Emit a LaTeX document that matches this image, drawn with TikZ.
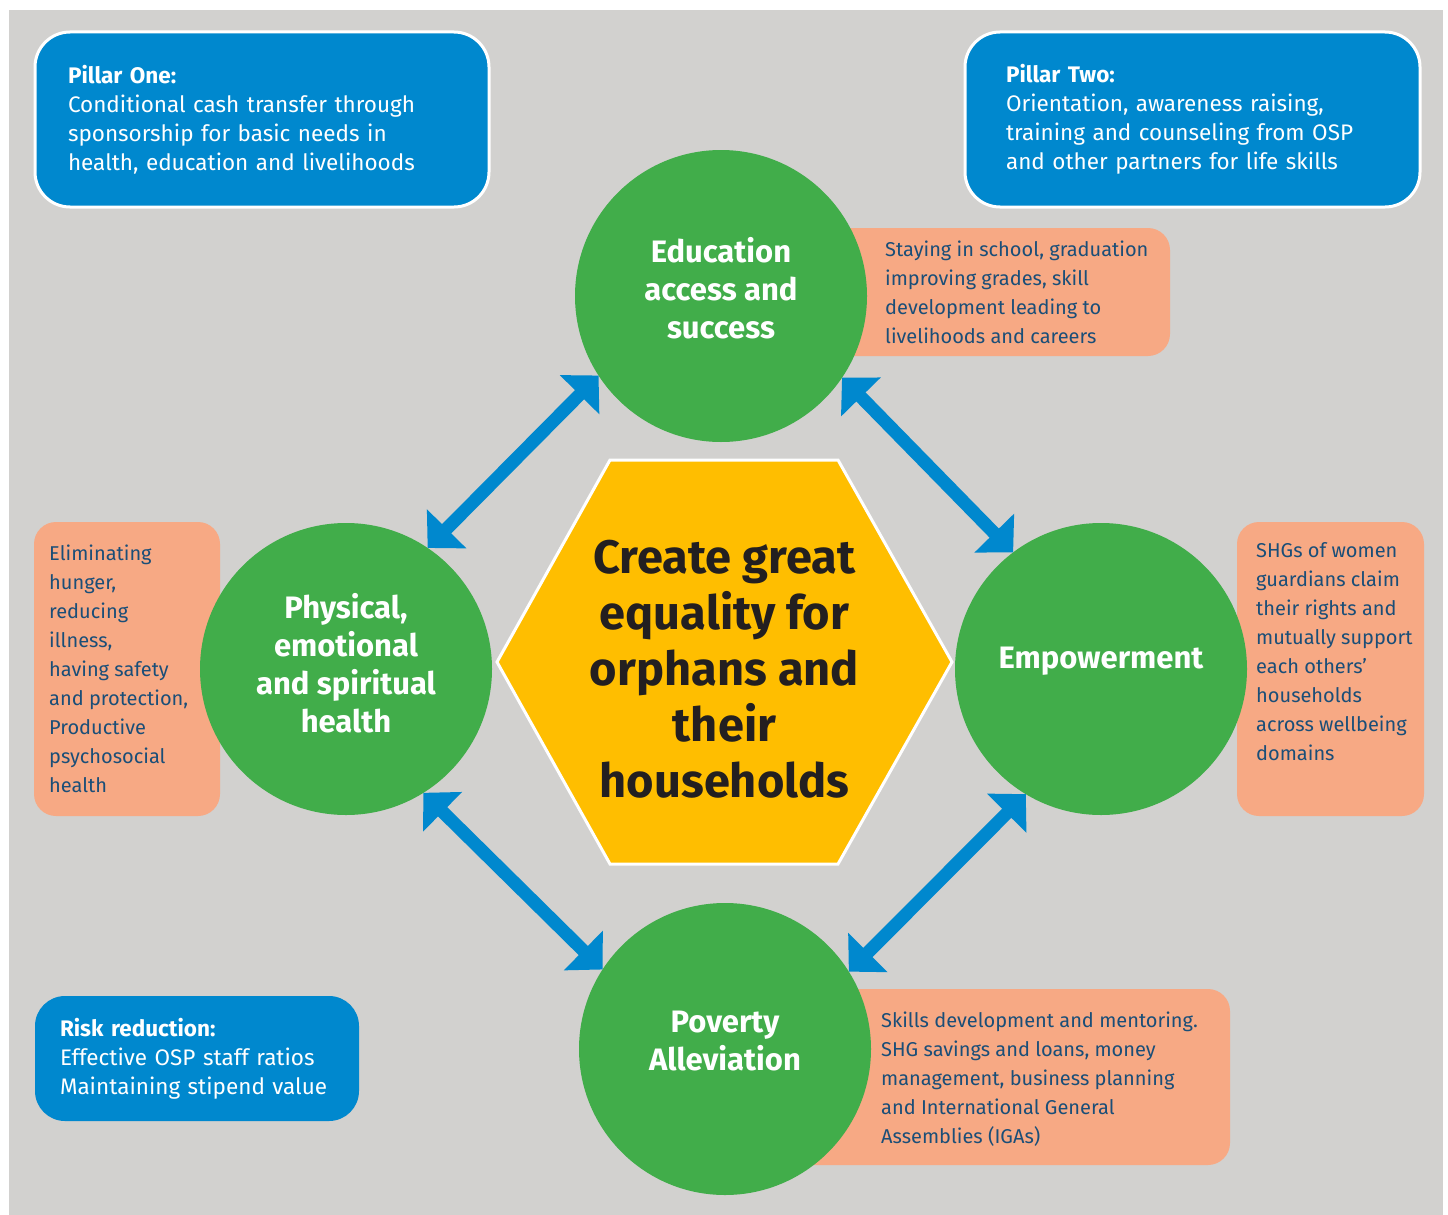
\documentclass[tikz,border=0pt]{standalone}
\usepackage{fontspec}
\setmainfont{Fira Sans}
\usetikzlibrary{arrows.meta}

\definecolor{bggray}{HTML}{D2D1CF}
\definecolor{pillarblue}{HTML}{0088CE}
\definecolor{circgreen}{HTML}{41AD4A}
\definecolor{notepeach}{HTML}{F7A984}
\definecolor{noteink}{HTML}{1A4E78}
\definecolor{hexyellow}{HTML}{FFBE00}
\definecolor{hexink}{HTML}{231F20}

\tikzset{
  pillar/.style={fill=pillarblue, draw=white, line width=3pt, rounded corners=35pt,
    text=white, align=left, inner ysep=0pt, font=\fontsize{22.5}{29}\selectfont},
  hub/.style={circle, fill=circgreen, minimum size=292pt, inner sep=0pt, outer sep=0pt},
  hubtext/.style={text=white, align=center, font=\bfseries\fontsize{31}{38}\selectfont},
  notebox/.style={fill=notepeach, rounded corners=22pt},
  notetext/.style={text=noteink, align=left, inner sep=0pt, font=\fontsize{20}{29}\selectfont},
  link/.style={draw=pillarblue, line width=13pt,
    {Triangle[length=27pt,width=54pt]}-{Triangle[length=27pt,width=54pt]}},
}

\begin{document}
\begin{tikzpicture}[x=1pt,y=-1pt]
	\useasboundingbox (0,0) rectangle (1448,1215);
	\fill[white] (0,0) rectangle (1448,1215);
	\fill[bggray] (9,10) rectangle (1443,1215);

	% pillars and risk box
	\node[pillar, text width=388pt, inner xsep=33pt, minimum height=175pt] (pillarOne) at (262,119.5)
		{\textbf{Pillar One:}\\Conditional cash transfer through\\sponsorship for basic needs in\\health, education and livelihoods};
	\node[pillar, text width=373pt, inner xsep=41pt, minimum height=175pt] (pillarTwo) at (1192.5,119.5)
		{\textbf{Pillar Two:}\\Orientation, awareness raising,\\training and counseling from OSP\\and other partners for life skills};
	\node[pillar, draw=none, rounded corners=30pt, text width=274pt, inner xsep=25pt, minimum height=125pt] (risk) at (197,1058.5)
		{\textbf{Risk reduction:}\\Effective OSP staff ratios\\Maintaining stipend value};

	% outcome notes, partly tucked behind the circles
	\fill[notebox] (790,228) rectangle (1170,356);
	\fill[notebox] (34,522) rectangle (220,816);
	\fill[notebox] (1237,522) rectangle (1424,816);
	\fill[notebox] (760,989) rectangle (1230,1165);
	\node[notetext, anchor=west] (eduNote) at (885,292)
		{Staying in school, graduation\\improving grades, skill\\development leading to\\livelihoods and careers};
	\node[notetext, anchor=west] (physNote) at (49,669)
		{Eliminating\\hunger,\\reducing\\illness,\\having safety\\and protection,\\Productive\\psychosocial\\health};
	\node[notetext, anchor=north west] (empNote) at (1256,542)
		{SHGs of women\\guardians claim\\their rights and\\mutually support\\each others’\\households\\across wellbeing\\domains};
	\node[notetext, anchor=west] (povNote) at (881,1079)
		{Skills development and mentoring.\\SHG savings and loans, money\\management, business planning\\and International General\\Assemblies (IGAs)};

	% centre hexagon
	\filldraw[fill=hexyellow, draw=white, line width=3pt] (610,460) -- (838,460) -- (952,662) -- (838,864) -- (610,864) -- (497,662) -- cycle;
	\node[text=hexink, align=center, font=\bfseries\fontsize{47}{56}\selectfont] (goal) at (724.5,669)
		{Create great\\equality for\\orphans and\\their\\households};

	% the four domains
	\node[hub] (edu) at (721,296) {};
	\node[hub] (phys) at (346,669) {};
	\node[hub] (emp) at (1101,669) {};
	\node[hub] (pov) at (725,1049) {};
	\node[hubtext] (eduText) at ([yshift=8pt]edu.center) {Education\\access and\\success};
	\node[hubtext] (physText) at ([yshift=6pt]phys.center) {Physical,\\emotional\\and spiritual\\health};
	\node[hubtext] (empText) at ([yshift=8pt]emp.center) {Empowerment};
	\node[hubtext] (povText) at ([yshift=8pt]pov.center) {Poverty\\Alleviation};

	\draw[link] (edu.213) -- (phys.56);
	\draw[link] (edu.326) -- (emp.127);
	\draw[link] (phys.302) -- (pov.147);
	\draw[link] (emp.239) -- (pov.32);
\end{tikzpicture}
\end{document}
